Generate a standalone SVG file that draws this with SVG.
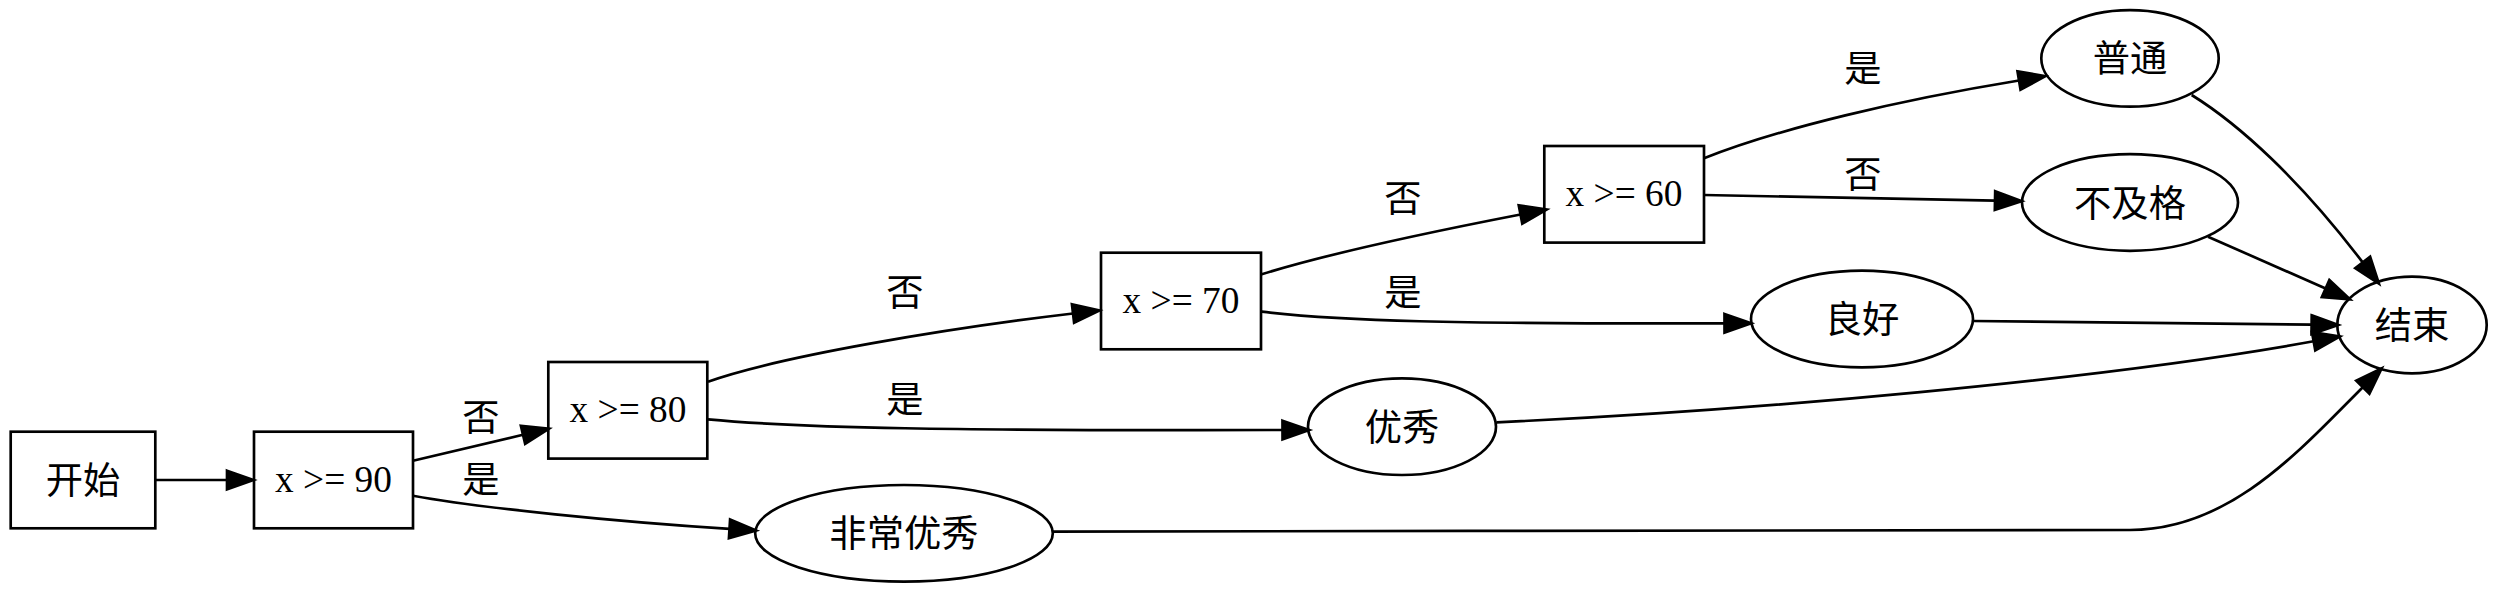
<svg xmlns="http://www.w3.org/2000/svg" width="2498" height="592" viewBox="0 0 2498 592">
<style>
.n{fill:none;stroke:#000;stroke-width:2.67}
.e{fill:none;stroke:#000;stroke-width:2.67}
.t{font-family:"Liberation Serif","Noto Sans CJK SC",serif;font-size:37.33px;fill:#000;text-anchor:middle}
.c{font-family:"Noto Sans CJK SC","Liberation Serif",sans-serif;font-size:37.33px;fill:#000;text-anchor:middle}
</style>
<defs>
<marker id="ah" markerUnits="userSpaceOnUse" markerWidth="30" markerHeight="22" refX="0" refY="9.33" orient="auto" overflow="visible">
<path d="M0,0 L26.7,9.33 L0,18.67 Z" fill="#000" stroke="#000" stroke-width="2.67"/>
</marker>
</defs>
<rect x="0" y="0" width="2498" height="592" fill="#fff"/>
<g id="connectors">
<path class="e" marker-end="url(#ah)" d="M155.3,480 L227,480"/>
<path class="e" marker-end="url(#ah)" d="M413,460.7 L523,434.8"/>
<path class="e" marker-end="url(#ah)" d="M413,495.7 C480,508 620,522 729.5,528.8"/>
<path class="e" marker-end="url(#ah)" d="M708,381.7 C780,356 950,328 1073,313.5"/>
<path class="e" marker-end="url(#ah)" d="M708,419.3 C800,428 950,431 1282.5,430"/>
<path class="e" marker-end="url(#ah)" d="M1261.7,274.3 C1320,256 1420,234 1520.5,214.5"/>
<path class="e" marker-end="url(#ah)" d="M1261.7,311.7 C1340,321 1450,324 1724.5,323.3"/>
<path class="e" marker-end="url(#ah)" d="M1704,158.3 C1780,128 1900,100 2019,80.5"/>
<path class="e" marker-end="url(#ah)" d="M1704,195 L1995,200.6"/>
<path class="e" marker-end="url(#ah)" d="M2191.7,95 C2240,125 2300,180 2362.7,262.4"/>
<path class="e" marker-end="url(#ah)" d="M2208,236.7 L2325.6,288.5"/>
<path class="e" marker-end="url(#ah)" d="M1973,321 L2311.6,324.7"/>
<path class="e" marker-end="url(#ah)" d="M1496.7,422.3 C1750,411 2100,380 2313.6,341.3"/>
<path class="e" marker-end="url(#ah)" d="M1052.7,531.7 C1400,531 1900,530 2130,530 C2230,530 2300,450 2362.8,387.2"/>
<text class="c" x="481" y="430.7">否</text>
<text class="c" x="481" y="493">是</text>
<text class="c" x="905" y="305.7">否</text>
<text class="c" x="905" y="413">是</text>
<text class="c" x="1403" y="212">否</text>
<text class="c" x="1403" y="306">是</text>
<text class="c" x="1863" y="82">是</text>
<text class="c" x="1863" y="188">否</text>
</g>
<g id="start"><rect class="n" x="10.7" y="431.7" width="144.6" height="96.6"/><text class="c" x="83" y="494">开始</text></g>
<g id="x90"><rect class="n" x="254" y="431.7" width="159" height="96.6"/><text class="t" x="333.5" y="491.7">x &gt;= 90</text></g>
<g id="x80"><rect class="n" x="548.3" y="362" width="159" height="96.6"/><text class="t" x="628" y="421.7">x &gt;= 80</text></g>
<g id="x70"><rect class="n" x="1101" y="252.7" width="160" height="96.6"/><text class="t" x="1181" y="312.7">x &gt;= 70</text></g>
<g id="x60"><rect class="n" x="1544.3" y="146" width="159.7" height="96.6"/><text class="t" x="1624" y="206">x &gt;= 60</text></g>
<g id="putong"><ellipse class="n" cx="2130" cy="58.4" rx="88.7" ry="48.3"/><text class="c" x="2130" y="72.4">普通</text></g>
<g id="bujige"><ellipse class="n" cx="2130" cy="202.5" rx="108" ry="48.3"/><text class="c" x="2130" y="216.5">不及格</text></g>
<g id="lianghao"><ellipse class="n" cx="1862" cy="319" rx="111" ry="48.3"/><text class="c" x="1862" y="333">良好</text></g>
<g id="youxiu"><ellipse class="n" cx="1402" cy="426.7" rx="94" ry="48.3"/><text class="c" x="1402" y="440.7">优秀</text></g>
<g id="feichangyouxiu"><ellipse class="n" cx="904" cy="533.3" rx="148.8" ry="48.3"/><text class="c" x="904" y="547.3">非常优秀</text></g>
<g id="end"><ellipse class="n" cx="2412" cy="325" rx="74.7" ry="48.3"/><text class="c" x="2412" y="339">结束</text></g>
</svg>
